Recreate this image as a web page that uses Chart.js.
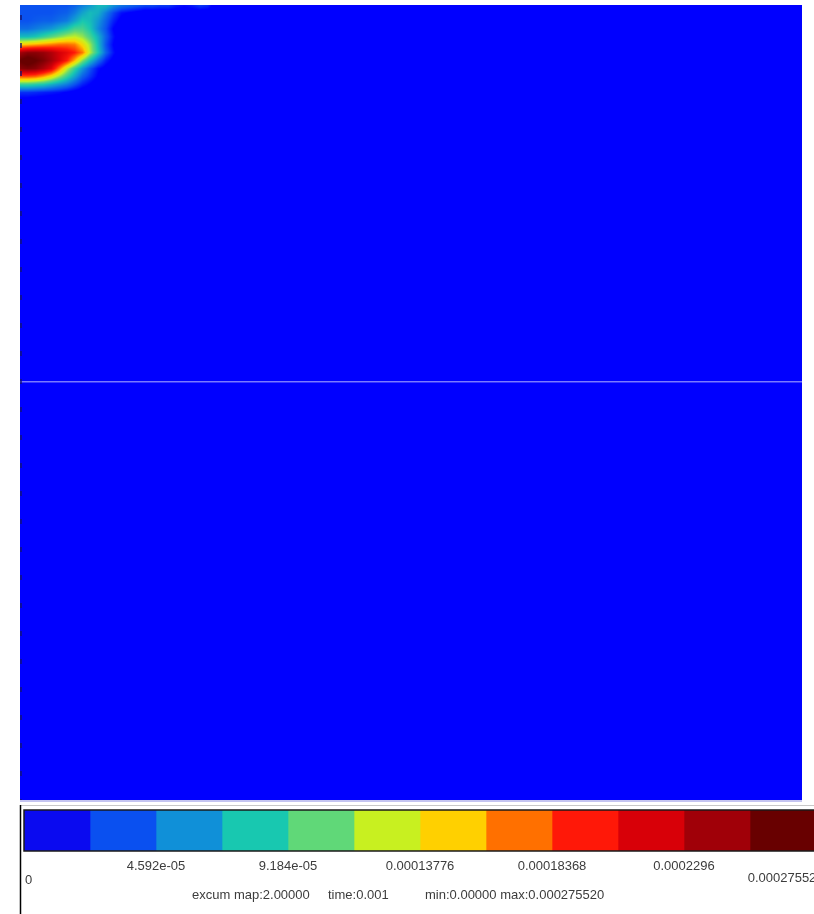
<!DOCTYPE html>
<html>
<head>
<meta charset="utf-8">
<script src="https://cdn.jsdelivr.net/npm/chart.js@4.4.1/dist/chart.umd.min.js"></script>
<style>
  html, body { margin: 0; padding: 0; background: #fff; overflow: hidden; width: 814px; height: 914px; }
  #fieldBox { position: absolute; left: 0; top: 0; width: 814px; height: 803px; }
  #barBox { position: absolute; left: 0; top: 803px; width: 830px; height: 111px; }
</style>
</head>
<body>
<div id="fieldBox"><canvas id="chart-field"></canvas></div>
<div id="barBox"><canvas id="chart-bar"></canvas></div>
<script>
// values in units of 1e-5, grid nodes every 1 unit (x 0..100 across, y 0..100 down)
var row00 = [3.5, 3.5, 3.5, 3.5, 3.5, 3.5, 3.5, 4, 5, 6, 7.5, 7.5, 6, 5, 4.5, 4, 3.5, 3.5, 3, 3, 2, 1.5, 2, 3, 2.5, 0];
var row01 = [3.5, 3.5, 3.5, 3.5, 3.5, 3.8, 4, 5, 6.5, 7.5, 7, 5, 3, 1.5, 1, 0.5, 0];
var row02 = [3.5, 3.5, 3.8, 4, 4, 4.5, 5, 6.5, 8, 7.5, 6, 4, 2, 0.5, 0];
var row03 = [4.5, 4.5, 5, 5.5, 6, 7, 8, 9.5, 9.5, 8, 5.5, 3.5, 1, 0];
var row04 = [7.5, 7.5, 8, 9, 10, 11, 12, 12.5, 11.5, 9.5, 7, 4, 1.5, 0];
var row05 = [15, 15.5, 16, 16.5, 17, 17.5, 17.5, 17, 14.5, 11.5, 7.5, 3.5, 1, 0];
var row06 = [24, 25, 25, 24.5, 23.5, 22, 21, 19.5, 17, 12, 8, 4, 1.5, 0];
var row07 = [26.5, 27.5, 26.5, 25.5, 24, 22, 19.5, 15.5, 11, 7.5, 4.5, 2, 0.5, 0];
var row08 = [25, 25.5, 25, 23.5, 21.5, 17, 12.5, 9, 6, 3.5, 1.5, 0.5, 0];
var row09 = [18, 18, 17.5, 16, 14, 11.5, 9, 6.5, 4, 2.5, 1, 0];
var row10 = [9, 9, 8.5, 8, 7, 6, 5, 3.5, 2, 1, 0];
var row11 = [2.5, 2.5, 2.3, 2, 1.8, 1.5, 1, 0.5, 0];
var row12 = [0.5, 0.5, 0.3, 0.2, 0];
var row13 = [0];
var heatRows = [row00, row01, row02, row03, row04, row05, row06, row07, row08, row09, row10, row11, row12, row13];
var heatCols = 26;

var meshLineY = 47.4;

// colour bar
var levelEdges = [0, 2.296e-5, 4.592e-5, 6.888e-5, 9.184e-5, 11.48e-5, 13.776e-5, 16.072e-5, 18.368e-5, 20.664e-5, 22.96e-5, 25.256e-5, 27.552e-5];
var levelColors = ['#0a0af0', '#0a50f0', '#1090d8', '#18c8b0', '#60d878', '#c8f020',
                   '#ffd000', '#ff7000', '#ff1808', '#d80008', '#a00008', '#680000'];
var tickValues = [0, 4.592e-5, 9.184e-5, 13.776e-5, 18.368e-5, 22.96e-5, 27.552e-5];
var tickLabels = ['0', '4.592e-05', '9.184e-05', '0.00013776', '0.00018368', '0.0002296', '0.00027552'];
var infoText = ['excum map:2.00000', 'time:0.001', 'min:0.00000 max:0.000275520'];

var fieldColor = '#0000ff';

function hexRgb(h) {
  return [parseInt(h.substr(1, 2), 16), parseInt(h.substr(3, 2), 16), parseInt(h.substr(5, 2), 16)];
}
var stops = levelColors.map(hexRgb);
stops[0] = hexRgb(fieldColor);

function colorFor(v) {
  var step = levelEdges[1] * 1e5;
  var t = v / step - 0.5;
  if (t <= 0) return stops[0];
  if (t >= stops.length - 1) return stops[stops.length - 1];
  var i = Math.floor(t), f = t - i;
  var a = stops[i], b = stops[i + 1];
  return [a[0] + (b[0] - a[0]) * f, a[1] + (b[1] - a[1]) * f, a[2] + (b[2] - a[2]) * f];
}

function node(r, c) {
  var row = heatRows[r];
  if (!row) return 0;
  var v = row[c];
  return v === undefined ? 0 : v;
}

function sample(x, y) {
  if (x < 0) x = 0;
  if (y < 0) y = 0;
  var c = Math.floor(x), r = Math.floor(y);
  var fx = x - c, fy = y - r;
  var v00 = node(r, c), v01 = node(r, c + 1), v10 = node(r + 1, c), v11 = node(r + 1, c + 1);
  return (v00 * (1 - fx) + v01 * fx) * (1 - fy) + (v10 * (1 - fx) + v11 * fx) * fy;
}

// field background + contour colouring
var fieldPlugin = {
  id: 'field',
  beforeDatasetsDraw: function(chart) {
    var ctx = chart.ctx, a = chart.chartArea;
    var xs = chart.scales.x, ys = chart.scales.y;
    ctx.save();
    ctx.fillStyle = fieldColor;
    ctx.fillRect(a.left, a.top, a.right - a.left, a.bottom - a.top);

    var x0 = Math.floor(xs.getPixelForValue(0)), x1 = Math.ceil(xs.getPixelForValue(heatCols));
    var y0 = Math.floor(ys.getPixelForValue(0)), y1 = Math.ceil(ys.getPixelForValue(heatRows.length));
    var w = x1 - x0, h = y1 - y0;
    var off = document.createElement('canvas');
    off.width = w; off.height = h;
    var octx = off.getContext('2d');
    var img = octx.createImageData(w, h);
    for (var py = 0; py < h; py++) {
      var dy = ys.getValueForPixel(y0 + py + 0.5);
      for (var px = 0; px < w; px++) {
        var dx = xs.getValueForPixel(x0 + px + 0.5);
        var col = colorFor(sample(dx, dy));
        var k = (py * w + px) * 4;
        img.data[k] = col[0]; img.data[k + 1] = col[1]; img.data[k + 2] = col[2]; img.data[k + 3] = 255;
      }
    }
    octx.putImageData(img, 0, 0);
    ctx.drawImage(off, x0, y0);
    ctx.restore();
  },
  afterDatasetsDraw: function(chart) {
    var ctx = chart.ctx, a = chart.chartArea;
    ctx.save();
    // node marks along the left edge
    ctx.strokeStyle = 'rgba(20,20,110,0.7)';
    ctx.lineWidth = 2;
    ctx.setLineDash([5, 23]);
    ctx.beginPath();
    ctx.moveTo(a.left + 1, a.top + 10);
    ctx.lineTo(a.left + 1, a.bottom);
    ctx.stroke();
    ctx.setLineDash([]);
    // light rim under the field
    ctx.strokeStyle = '#c4c4f0';
    ctx.lineWidth = 2;
    ctx.beginPath();
    ctx.moveTo(a.left, a.bottom + 1);
    ctx.lineTo(a.right, a.bottom + 1);
    ctx.stroke();
    ctx.restore();
  }
};

new Chart(document.getElementById('chart-field').getContext('2d'), {
  type: 'scatter',
  data: {
    datasets: [{
      data: [{ x: 0, y: meshLineY }, { x: 100, y: meshLineY }],
      showLine: true,
      borderColor: '#b4b4ff',
      borderWidth: 1,
      pointRadius: 0
    }]
  },
  options: {
    responsive: true,
    maintainAspectRatio: false,
    animation: false,
    layout: { padding: { left: 20, right: 12, top: 5, bottom: 3 } },
    plugins: { legend: { display: false }, tooltip: { enabled: false } },
    scales: {
      x: { type: 'linear', min: 0, max: 100, display: false },
      y: { type: 'linear', min: 0, max: 100, reverse: true, display: false }
    }
  },
  plugins: [fieldPlugin]
});

// colour bar, labels and info line
var barPlugin = {
  id: 'barDecor',
  afterDraw: function(chart) {
    var ctx = chart.ctx, a = chart.chartArea, xs = chart.scales.x;
    ctx.save();
    ctx.strokeStyle = '#1a1a1a';
    ctx.lineWidth = 1.5;
    ctx.strokeRect(a.left, a.top, a.right - a.left, a.bottom - a.top);
    // box
    ctx.strokeStyle = '#c8c8c8';
    ctx.lineWidth = 1;
    ctx.beginPath();
    ctx.moveTo(20, 2.5);
    ctx.lineTo(chart.width, 2.5);
    ctx.stroke();
    ctx.strokeStyle = '#000';
    ctx.lineWidth = 1.5;
    ctx.beginPath();
    ctx.moveTo(20.5, 2);
    ctx.lineTo(20.5, chart.height);
    ctx.stroke();

    ctx.fillStyle = '#3c3c3c';
    ctx.font = '13px "Liberation Sans", Arial, sans-serif';
    ctx.textBaseline = 'middle';
    for (var i = 0; i < tickValues.length; i++) {
      var px = xs.getPixelForValue(tickValues[i]);
      if (i === 0) {
        ctx.textAlign = 'left';
        ctx.fillText(tickLabels[i], px + 1, 77);
      } else if (i === tickValues.length - 1) {
        ctx.textAlign = 'center';
        ctx.fillText(tickLabels[i], px - 34, 75);
      } else {
        ctx.textAlign = 'center';
        ctx.fillText(tickLabels[i], px, 63);
      }
    }
    ctx.textAlign = 'left';
    ctx.fillText(infoText[0], 192, 92);
    ctx.fillText(infoText[1], 328, 92);
    ctx.fillText(infoText[2], 425, 92);
    ctx.restore();
  }
};

var barSets = [];
for (var k = 0; k < levelColors.length; k++) {
  barSets.push({
    data: [[levelEdges[k], levelEdges[k + 1]]],
    backgroundColor: levelColors[k],
    borderWidth: 0,
    grouped: false,
    barPercentage: 1,
    categoryPercentage: 1
  });
}

new Chart(document.getElementById('chart-bar').getContext('2d'), {
  type: 'bar',
  data: { labels: ['map'], datasets: barSets },
  options: {
    indexAxis: 'y',
    responsive: true,
    maintainAspectRatio: false,
    animation: false,
    layout: { padding: { left: 24, right: 14, top: 7, bottom: 63 } },
    plugins: { legend: { display: false }, tooltip: { enabled: false } },
    scales: {
      x: { type: 'linear', min: levelEdges[0], max: levelEdges[levelEdges.length - 1], display: false },
      y: { display: false }
    }
  },
  plugins: [barPlugin]
});
</script>
</body>
</html>
